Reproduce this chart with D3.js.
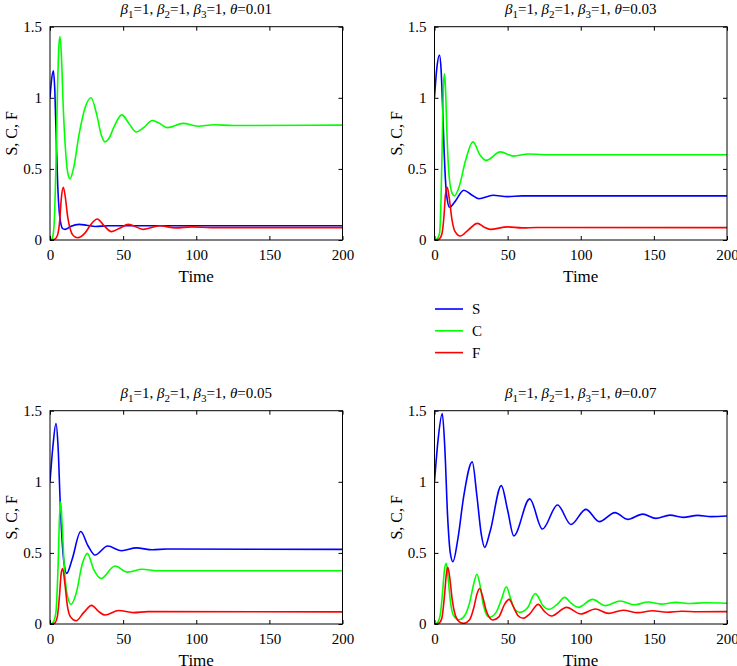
<!DOCTYPE html>
<html>
<head>
<meta charset="utf-8">
<script src="https://cdn.jsdelivr.net/npm/d3@7"></script>
<style>
  html, body { margin: 0; padding: 0; background: #fff; }
  svg { display: block; }
</style>
</head>
<body>
<svg id="chart" width="737" height="666"></svg>
<script>
// ---------------- DATA ----------------
const xTicks = [0, 50, 100, 150, 200];
const yTicks = [0, 0.5, 1, 1.5];
const seriesNames = ["S", "C", "F"];
const seriesColors = ["#0000ff", "#00ff00", "#ff0000"];
const thetas = ["0.01", "0.03", "0.05", "0.07"];

// theta = 0.01
const S_001 = [[0,1.0],[1,1.12],[2.3,1.19],[3.3,1.05],[4.3,0.7],[5.3,0.38],[6.3,0.2],[7.5,0.11],[8.7,0.08],[10.3,0.075],[14,0.095],[20,0.11],[25,0.104],[31,0.095],[40,0.1],[200,0.1]];
const C_001 = [[0,0],[1,0.004],[2,0.03],[3,0.15],[4,0.5],[5,1.0],[6,1.35],[6.8,1.43],[7.8,1.3],[9,0.95],[10.5,0.65],[12,0.48],[13.7,0.43],[16,0.5],[20,0.75],[24,0.93],[28,1.0],[32,0.88],[35,0.74],[37.6,0.69],[40,0.71],[44,0.8],[49,0.88],[54,0.82],[58.8,0.76],[64,0.79],[70,0.84],[75,0.82],[80.4,0.79],[91,0.82],[101,0.8],[112,0.81],[125,0.805],[200,0.808]];
const F_001 = [[0,0],[3,0.005],[5,0.03],[6.5,0.12],[7.8,0.3],[9.1,0.37],[10.5,0.3],[12,0.17],[14,0.07],[16,0.03],[19,0.016],[24,0.05],[28,0.11],[32.3,0.148],[37,0.1],[42,0.059],[48,0.085],[53.5,0.11],[64,0.075],[75,0.1],[86,0.085],[97,0.092],[110,0.087],[200,0.087]];

// theta = 0.03
const S_003 = [[0,1.0],[1.5,1.2],[3.4,1.30],[4.5,1.2],[5.5,0.95],[6.5,0.65],[7.5,0.42],[8.5,0.3],[10.3,0.23],[14,0.27],[20,0.35],[25,0.32],[30.4,0.29],[40,0.315],[50,0.305],[60,0.31],[200,0.31]];
const C_003 = [[0,0],[2,0.01],[3.5,0.05],[4.5,0.3],[5.5,0.8],[6.2,1.1],[6.9,1.17],[7.6,1.05],[8.5,0.75],[10,0.45],[12,0.33],[13.7,0.31],[17,0.38],[21,0.55],[26.3,0.69],[31,0.6],[35.4,0.56],[45,0.62],[54,0.59],[64,0.605],[75,0.6],[200,0.6]];
const F_003 = [[0,0],[3,0.005],[5,0.04],[6.5,0.17],[7.5,0.32],[8.7,0.37],[10,0.3],[12,0.14],[14,0.06],[17.6,0.028],[23,0.07],[29.3,0.117],[34,0.09],[38,0.075],[50,0.092],[60,0.085],[70,0.088],[200,0.087]];

// theta = 0.05
const S_005 = [[0,1.0],[2,1.25],[4.1,1.41],[5.5,1.25],[7,0.85],[8.5,0.55],[10,0.4],[11.4,0.356],[15,0.45],[21,0.65],[26,0.55],[30.8,0.485],[39.4,0.548],[49,0.515],[59,0.535],[70,0.522],[80,0.527],[200,0.525]];
const C_005 = [[0,0],[2,0.01],[4,0.08],[5.5,0.4],[6.5,0.75],[7.3,0.86],[8.3,0.7],[9.5,0.45],[11.5,0.22],[14.4,0.138],[18,0.22],[22,0.42],[25.5,0.497],[30,0.38],[34.9,0.32],[44.4,0.408],[53,0.365],[63,0.385],[73,0.375],[200,0.375]];
const F_005 = [[0,0],[3,0.005],[5,0.05],[6.5,0.2],[7.7,0.36],[8.7,0.39],[10,0.3],[12,0.12],[14,0.05],[17.8,0.023],[23,0.08],[28.5,0.131],[33,0.09],[37.6,0.063],[47,0.095],[57,0.08],[67,0.087],[200,0.085]];

// theta = 0.07
const S_007 = [[0,1.0],[2.5,1.3],[5.3,1.48],[7,1.25],[9,0.75],[10.8,0.5],[12.6,0.438],[16,0.6],[20,0.9],[25.8,1.14],[29,0.9],[32,0.63],[34.3,0.539],[38,0.65],[45.7,0.973],[50,0.8],[54.2,0.62],[65.1,0.88],[73.8,0.668],[84.1,0.837],[93.3,0.70],[103.5,0.806],[112.7,0.72],[123.4,0.783],[132,0.736],[142.4,0.773],[151.3,0.743],[161,0.766],[170,0.75],[180,0.764],[189,0.755],[200,0.759]];
const C_007 = [[0,0],[2,0.01],[4,0.07],[5.5,0.22],[6.8,0.38],[8,0.427],[9.5,0.3],[11,0.15],[13,0.06],[16.7,0.03],[20,0.05],[24,0.15],[27,0.29],[29,0.35],[31,0.28],[33.5,0.13],[37.3,0.047],[42,0.08],[46,0.18],[49.1,0.262],[52,0.18],[55,0.1],[58.3,0.082],[64,0.12],[67,0.19],[69,0.215],[71,0.19],[74,0.13],[78.4,0.103],[84,0.14],[89,0.187],[93,0.15],[98.3,0.117],[108,0.173],[117,0.129],[127,0.162],[137,0.135],[146,0.155],[155,0.14],[165,0.152],[175,0.144],[185,0.149],[200,0.146]];
const F_007 = [[0,0],[3,0.005],[5,0.04],[7,0.22],[8,0.34],[9.1,0.398],[10.5,0.32],[12,0.18],[14,0.07],[17,0.015],[20,0.005],[24,0.03],[27,0.12],[29,0.21],[30.9,0.25],[33,0.19],[35.5,0.09],[40,0.028],[44,0.05],[48,0.14],[51,0.173],[54,0.12],[57,0.06],[60.6,0.04],[65,0.07],[70.9,0.138],[75,0.09],[80,0.056],[90.3,0.117],[100,0.07],[110,0.105],[119,0.075],[129,0.097],[139,0.08],[149,0.093],[159,0.083],[169,0.09],[180,0.086],[200,0.087]];

const panelData = [
  [S_001, C_001, F_001],
  [S_003, C_003, F_003],
  [S_005, C_005, F_005],
  [S_007, C_007, F_007]
];

// ---------------- LAYOUT ----------------
const FONT = "'Liberation Serif', 'Times New Roman', Times, 'DejaVu Serif', serif";
const plotW = 292.5, plotH = 213.3;
const origins = [[50, 26.7], [434.5, 26.7], [50, 410.7], [434.5, 410.7]];

const svg = d3.select("#chart").attr("font-family", FONT);

function drawTitle(g, theta) {
  const t = g.append("text")
    .attr("x", plotW / 2).attr("y", -13)
    .attr("text-anchor", "middle")
    .attr("font-family", FONT)
    .attr("font-size", 15);
  const parts = [];
  [1, 2, 3].forEach(k => {
    parts.push({ txt: "\u03B2", italic: true });
    parts.push({ txt: String(k), sub: true });
    parts.push({ txt: "=1, " });
  });
  parts.push({ txt: "\u03B8", italic: true });
  parts.push({ txt: "=" + theta });
  let inSub = false;
  parts.forEach(p => {
    const ts = t.append("tspan").text(p.txt);
    if (p.italic) ts.attr("font-style", "italic");
    if (p.sub) {
      ts.attr("dy", 4).attr("font-size", 11);
      inSub = true;
    } else if (inSub) {
      ts.attr("dy", -4);
      inSub = false;
    }
  });
}

panelData.forEach((series, i) => {
  const [ox, oy] = origins[i];
  const g = svg.append("g").attr("transform", `translate(${ox},${oy})`);
  const x = d3.scaleLinear().domain([0, 200]).range([0, plotW]);
  const y = d3.scaleLinear().domain([0, 1.5]).range([plotH, 0]);

  const line = d3.line()
    .x(d => x(d[0])).y(d => y(d[1]))
    .curve(d3.curveMonotoneX);
  const clipId = "clip" + i;
  g.append("clipPath").attr("id", clipId)
    .append("rect").attr("x", 0).attr("y", -2).attr("width", plotW).attr("height", plotH + 2);
  const lg = g.append("g").attr("clip-path", `url(#${clipId})`);
  series.forEach((s, k) => {
    lg.append("path").datum(s)
      .attr("fill", "none")
      .attr("stroke", seriesColors[k])
      .attr("stroke-width", 1.6)
      .attr("d", line);
  });

  const fmt = d => String(d);
  const ax = g.append("g").attr("transform", `translate(0,${plotH})`)
    .call(d3.axisBottom(x).tickValues(xTicks).tickSize(-4).tickPadding(9).tickFormat(fmt));
  const ay = g.append("g")
    .call(d3.axisLeft(y).tickValues(yTicks).tickSize(-4).tickPadding(8).tickFormat(fmt));
  const at = g.append("g")
    .call(d3.axisTop(x).tickValues(xTicks).tickSize(-4).tickFormat(""));
  const ar = g.append("g").attr("transform", `translate(${plotW},0)`)
    .call(d3.axisRight(y).tickValues(yTicks).tickSize(-4).tickFormat(""));
  [ax, ay, at, ar].forEach(a => {
    a.attr("font-family", FONT).attr("font-size", 15);
    a.select(".domain").remove();
    a.selectAll("line").attr("stroke", "#000");
    a.selectAll("text").attr("fill", "#000");
  });

  g.append("rect").attr("x", 0).attr("y", 0)
    .attr("width", plotW).attr("height", plotH)
    .attr("fill", "none").attr("stroke", "#000").attr("stroke-width", 1);

  g.append("text").attr("x", plotW / 2).attr("y", plotH + 42)
    .attr("text-anchor", "middle").attr("font-family", FONT).attr("font-size", 17).text("Time");
  g.append("text")
    .attr("transform", `translate(-33,${plotH / 2}) rotate(-90)`)
    .attr("text-anchor", "middle").attr("font-family", FONT).attr("font-size", 16).text("S, C, F");

  drawTitle(g, thetas[i]);
});

// ---------------- LEGEND ----------------
const legend = svg.append("g").attr("transform", "translate(435,309)");
seriesNames.forEach((name, k) => {
  const row = legend.append("g").attr("transform", `translate(0,${k * 21.8})`);
  row.append("line").attr("x1", 0).attr("x2", 28).attr("y1", 0).attr("y2", 0)
    .attr("stroke", seriesColors[k]).attr("stroke-width", 1.6);
  row.append("text").attr("x", 37).attr("y", 5)
    .attr("font-family", FONT).attr("font-size", 15).text(name);
});
</script>
</body>
</html>
